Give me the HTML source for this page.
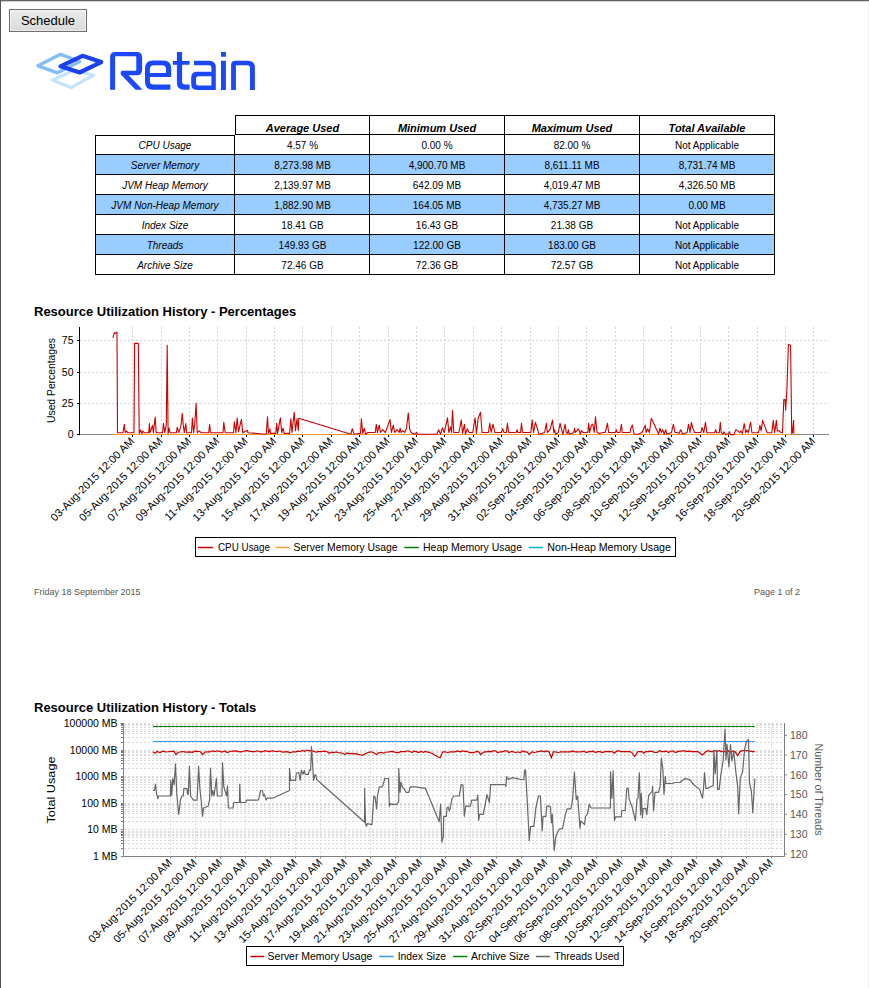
<!DOCTYPE html><html><head><meta charset="utf-8"><style>html,body{margin:0;padding:0;background:#fff;width:869px;height:988px;overflow:hidden;font-family:"Liberation Sans", sans-serif}svg{position:absolute;left:0;top:0}text{font-family:"Liberation Sans", sans-serif}</style></head><body>
<svg width="869" height="988" viewBox="0 0 869 988">
<rect x="0" y="0" width="869" height="1" fill="#636363"/><rect x="0" y="1" width="869" height="1" fill="#d0d0d0"/><rect x="0" y="0" width="1" height="988" fill="#555555"/><rect x="868" y="2" width="1" height="986" fill="#eeeeee"/>
<defs><linearGradient id="bg" x1="0" y1="0" x2="0" y2="1"><stop offset="0" stop-color="#ececec"/><stop offset="1" stop-color="#d9d9d9"/></linearGradient></defs>
<rect x="9.5" y="9.5" width="77" height="22" fill="url(#bg)" stroke="#707070" stroke-width="1"/>
<rect x="10.5" y="10.5" width="75" height="20" fill="none" stroke="#f4f4f4" stroke-opacity="0.7" stroke-width="1"/>
<text x="48" y="24.7" font-size="13" text-anchor="middle" fill="#000">Schedule</text>
<g fill="none" stroke-linejoin="round">
<path d="M52.5,80.2 L73.3,70.5 L93.6,75 L71.4,87.6 Z" stroke="#c5e3fb" stroke-width="3.3"/>
<path d="M37.9,65.8 L60.6,54.3 L79.7,61.5 L57.6,72.8 Z" stroke="#84bef6" stroke-width="3.4"/>
<path d="M60.5,66.3 L82.5,55.8 L101.2,62.1 L79.7,72.5 Z" stroke="#1b40f1" stroke-width="4.2"/>
</g>
<g fill="#1c48fc" fill-rule="evenodd">
<path d="M110.1,89.7 V57.2 Q110.1,51.9 115.4,51.9 H136.8 Q142.1,51.9 142.1,57.2 V69.9 Q142.1,75.2 136.8,75.2 H128.6 L142.6,89.7 H135.6 L121.5,75.2 Q119.5,73 121.8,70.8 H135.3 Q136.3,70.8 136.3,69.8 V57.3 Q136.3,56.3 135.3,56.3 H115.1 V89.7 Z"/>
<path d="M153,60.6 H163.2 Q171.2,60.6 171.2,68.6 V77 H149.9 V81 Q149.9,84.5 153.4,84.5 H170.4 V89.7 H153 Q145,89.7 145,81.7 V68.6 Q145,60.6 153,60.6 Z M154,65.2 H162 Q166,65.2 166,69.2 V73 H149.9 V69.2 Q149.9,65.2 154,65.2 Z"/>
<path d="M176.9,52 H182.1 V60.9 H189.6 V64.7 H182.1 V81.5 Q182.1,84.5 185.1,84.5 H189.6 V89.7 H183.9 Q176.9,89.7 176.9,82.7 V64.7 H172.9 V60.9 H176.9 Z"/>
<path d="M194,60.7 H209 Q215.8,60.7 215.8,67.5 V89.9 H197 Q191.2,89.9 191.2,84 V77.6 Q191.2,71.8 197,71.8 H211.4 V67.5 Q211.4,65.3 209.2,65.3 H194 Z M198.5,76.2 H211.4 V85.5 H198.5 Q196,85.5 196,83 V78.7 Q196,76.2 198.5,76.2 Z"/>
<path d="M221,60.7 H225.9 V89.9 H221 Z M221,52 H225.9 V56.7 H221 Z"/>
<path d="M231.1,89.9 V65 Q231.1,60.7 235.4,60.7 H248 Q254.9,60.7 254.9,67.6 V89.9 H250 V68 Q250,65.3 247.3,65.3 H235.9 V89.9 Z"/>
</g>
<rect x="95" y="154" width="679" height="20" fill="#99ccff"/>
<rect x="95" y="194" width="679" height="20" fill="#99ccff"/>
<rect x="95" y="234" width="679" height="20" fill="#99ccff"/>
<path d="M235,115.5 H774.5 M235.5,115 V134.5 M234.5,135 V274.5 M369.5,115 V274.5 M504.5,115 V274.5 M639.5,115 V274.5 M774.5,115 V274.5 M95.5,135 V274.5 M95,135.5 H235 M235,134.5 H774.5 M95,154.5 H774.5 M95,174.5 H774.5 M95,194.5 H774.5 M95,214.5 H774.5 M95,234.5 H774.5 M95,254.5 H774.5 M95,274.5 H774.5" stroke="#000" stroke-width="1" fill="none"/>
<text x="302.5" y="131.5" font-size="11" font-weight="bold" font-style="italic" text-anchor="middle">Average Used</text>
<text x="437.0" y="131.5" font-size="11" font-weight="bold" font-style="italic" text-anchor="middle">Minimum Used</text>
<text x="572.0" y="131.5" font-size="11" font-weight="bold" font-style="italic" text-anchor="middle">Maximum Used</text>
<text x="707.0" y="131.5" font-size="11" font-weight="bold" font-style="italic" text-anchor="middle">Total Available</text>
<text x="165.0" y="148.6" font-size="10" font-style="italic" text-anchor="middle">CPU Usage</text>
<text x="302.5" y="148.6" font-size="10" text-anchor="middle">4.57 %</text>
<text x="437.0" y="148.6" font-size="10" text-anchor="middle">0.00 %</text>
<text x="572.0" y="148.6" font-size="10" text-anchor="middle">82.00 %</text>
<text x="707.0" y="148.6" font-size="10" text-anchor="middle">Not Applicable</text>
<text x="165.0" y="168.6" font-size="10" font-style="italic" text-anchor="middle">Server Memory</text>
<text x="302.5" y="168.6" font-size="10" text-anchor="middle">8,273.98 MB</text>
<text x="437.0" y="168.6" font-size="10" text-anchor="middle">4,900.70 MB</text>
<text x="572.0" y="168.6" font-size="10" text-anchor="middle">8,611.11 MB</text>
<text x="707.0" y="168.6" font-size="10" text-anchor="middle">8,731.74 MB</text>
<text x="165.0" y="188.6" font-size="10" font-style="italic" text-anchor="middle">JVM Heap Memory</text>
<text x="302.5" y="188.6" font-size="10" text-anchor="middle">2,139.97 MB</text>
<text x="437.0" y="188.6" font-size="10" text-anchor="middle">642.09 MB</text>
<text x="572.0" y="188.6" font-size="10" text-anchor="middle">4,019.47 MB</text>
<text x="707.0" y="188.6" font-size="10" text-anchor="middle">4,326.50 MB</text>
<text x="165.0" y="208.6" font-size="10" font-style="italic" text-anchor="middle">JVM Non-Heap Memory</text>
<text x="302.5" y="208.6" font-size="10" text-anchor="middle">1,882.90 MB</text>
<text x="437.0" y="208.6" font-size="10" text-anchor="middle">164.05 MB</text>
<text x="572.0" y="208.6" font-size="10" text-anchor="middle">4,735.27 MB</text>
<text x="707.0" y="208.6" font-size="10" text-anchor="middle">0.00 MB</text>
<text x="165.0" y="228.6" font-size="10" font-style="italic" text-anchor="middle">Index Size</text>
<text x="302.5" y="228.6" font-size="10" text-anchor="middle">18.41 GB</text>
<text x="437.0" y="228.6" font-size="10" text-anchor="middle">16.43 GB</text>
<text x="572.0" y="228.6" font-size="10" text-anchor="middle">21.38 GB</text>
<text x="707.0" y="228.6" font-size="10" text-anchor="middle">Not Applicable</text>
<text x="165.0" y="248.6" font-size="10" font-style="italic" text-anchor="middle">Threads</text>
<text x="302.5" y="248.6" font-size="10" text-anchor="middle">149.93 GB</text>
<text x="437.0" y="248.6" font-size="10" text-anchor="middle">122.00 GB</text>
<text x="572.0" y="248.6" font-size="10" text-anchor="middle">183.00 GB</text>
<text x="707.0" y="248.6" font-size="10" text-anchor="middle">Not Applicable</text>
<text x="165.0" y="268.6" font-size="10" font-style="italic" text-anchor="middle">Archive Size</text>
<text x="302.5" y="268.6" font-size="10" text-anchor="middle">72.46 GB</text>
<text x="437.0" y="268.6" font-size="10" text-anchor="middle">72.36 GB</text>
<text x="572.0" y="268.6" font-size="10" text-anchor="middle">72.57 GB</text>
<text x="707.0" y="268.6" font-size="10" text-anchor="middle">Not Applicable</text>
<text x="34" y="315.5" font-size="13" font-weight="bold" fill="#000">Resource Utilization History - Percentages</text>
<path d="M132.5,327 V434 M161.5,327 V434 M189.5,327 V434 M217.5,327 V434 M246.5,327 V434 M274.5,327 V434 M302.5,327 V434 M331.5,327 V434 M359.5,327 V434 M388.5,327 V434 M416.5,327 V434 M444.5,327 V434 M473.5,327 V434 M501.5,327 V434 M530.5,327 V434 M558.5,327 V434 M586.5,327 V434 M615.5,327 V434 M643.5,327 V434 M671.5,327 V434 M700.5,327 V434 M728.5,327 V434 M757.5,327 V434 M785.5,327 V434 M813.5,327 V434 M80,403.5 H828.8 M80,372.5 H828.8 M80,340.5 H828.8" stroke="#d4d4d4" stroke-width="1" stroke-dasharray="2,2" fill="none"/>
<path d="M79.5,327 V434.5 M77,434.5 H828.8" stroke="#000" stroke-width="1" fill="none"/>
<path d="M77,434.5 H79.5 M77,403.5 H79.5 M77,372.5 H79.5 M77,340.5 H79.5 M132.5,434.5 V437 M161.5,434.5 V437 M189.5,434.5 V437 M217.5,434.5 V437 M246.5,434.5 V437 M274.5,434.5 V437 M302.5,434.5 V437 M331.5,434.5 V437 M359.5,434.5 V437 M388.5,434.5 V437 M416.5,434.5 V437 M444.5,434.5 V437 M473.5,434.5 V437 M501.5,434.5 V437 M530.5,434.5 V437 M558.5,434.5 V437 M586.5,434.5 V437 M615.5,434.5 V437 M643.5,434.5 V437 M671.5,434.5 V437 M700.5,434.5 V437 M728.5,434.5 V437 M757.5,434.5 V437 M785.5,434.5 V437 M813.5,434.5 V437" stroke="#000" stroke-width="1" fill="none"/>
<path d="M80,434.5 H828.8" stroke="#888" stroke-width="1" fill="none"/>
<text x="73.5" y="438.3" font-size="10.5" text-anchor="end">0</text>
<text x="73.5" y="407.3" font-size="10.5" text-anchor="end">25</text>
<text x="73.5" y="376.3" font-size="10.5" text-anchor="end">50</text>
<text x="73.5" y="344.3" font-size="10.5" text-anchor="end">75</text>
<text transform="translate(54.5,380.5) rotate(-90)" font-size="10.5" text-anchor="middle" textLength="85" lengthAdjust="spacingAndGlyphs">Used Percentages</text>
<path d="M113,434.5 H794" stroke="#ff9933" stroke-width="1.1" fill="none"/>
<polyline points="112.9,337.9 114.4,332.7 115.2,333.5 116.2,332.4 117.0,332.4 117.5,432.7 123.0,432.7 124.3,424.4 125.2,432.7 126.7,430.9 127.6,432.7 134.0,432.7 134.6,343.4 138.3,343.4 139.2,433.7 140.5,430.0 142.0,433.7 142.7,431.0 144.2,432.7 148.8,432.7 149.4,423.5 150.1,432.7 152.5,425.4 153.4,432.7 155.2,417.0 156.2,432.7 162.6,432.7 163.5,423.5 164.8,432.7 166.3,424.4 167.2,345.3 168.1,433.7 169.1,428.1 170.0,432.7 176.4,432.7 177.3,427.2 178.8,432.7 181.0,425.4 182.3,413.4 183.2,424.4 184.3,432.7 185.8,423.5 186.6,432.7 191.5,432.7 192.4,418.0 193.6,432.7 194.7,424.4 196.1,403.3 197.2,432.7 199.4,430.9 200.9,432.7 208.7,432.7 209.6,424.4 210.5,432.7 223.0,432.7 223.8,422.2 225.2,432.7 233.5,432.7 234.4,421.7 235.9,432.7 237.2,418.0 238.5,431.8 241.4,419.3 242.7,432.7 247.3,430.3 248.2,432.7 266.2,434.3 267.5,416.8 268.4,433.4 269.9,428.8 270.6,433.4 275.8,433.4 276.7,423.3 277.6,433.4 279.5,422.4 280.4,417.8 281.7,432.5 283.1,428.2 284.1,433.4 289.6,433.4 290.9,418.7 292.0,432.5 294.2,412.2 295.5,430.6 297.0,418.7 298.3,430.6 298.8,418.3 350.9,434.3 352.2,428.8 354.1,434.3 360.5,433.4 361.4,418.7 362.7,433.4 364.2,428.2 365.6,434.3 367.9,432.5 375.2,432.5 376.3,424.2 377.4,432.5 379.3,425.1 380.4,432.5 382.6,429.7 385.4,432.5 390.0,419.6 391.4,432.5 393.3,425.1 394.6,432.5 397.3,429.7 399.2,432.5 400.1,428.2 401.0,432.5 402.9,430.6 404.7,432.5 406.5,428.2 408.3,413.1 409.6,428.8 411.0,432.5 414.7,434.3 416.6,432.5 417.5,434.3 436.8,434.3 438.7,429.7 440.5,434.3 442.4,427.9 444.2,432.5 445.1,428.8 447.5,417.8 448.8,432.5 450.6,427.0 451.6,432.5 452.5,410.4 453.8,432.5 458.9,432.5 461.3,420.1 462.6,433.4 464.5,424.2 465.4,434.3 467.2,428.8 469.1,432.5 472.7,432.5 475.1,417.8 476.4,433.4 478.3,417.8 480.5,412.2 482.0,432.5 488.4,432.5 489.7,423.3 491.2,432.5 493.0,424.2 494.8,432.5 501.3,432.5 502.6,428.8 504.1,432.5 506.4,432.5 507.4,423.3 508.7,432.5 516.0,432.5 516.9,429.7 517.9,432.5 520.6,432.5 521.5,423.3 522.5,432.5 530.8,432.5 532.2,420.1 533.5,432.5 535.4,422.4 537.2,427.9 539.0,434.3 544.6,432.5 546.4,423.3 547.3,432.5 550.1,429.7 552.5,420.1 553.8,432.5 554.6,429.7 555.5,434.3 558.3,432.5 560.1,423.3 561.4,428.8 562.9,434.3 565.1,424.2 566.2,432.5 567.5,433.4 568.4,429.7 569.3,434.3 573.9,432.5 574.5,428.2 575.4,432.5 577.6,429.7 578.5,428.8 580.4,434.3 581.3,430.6 583.1,432.5 587.8,432.5 588.7,423.3 589.6,432.5 591.4,425.1 592.7,424.2 594.2,432.5 595.5,416.8 597.0,432.5 599.7,433.4 602.5,432.5 605.2,432.5 607.5,423.3 608.6,432.5 615.4,432.5 616.3,429.7 617.2,432.5 620.0,432.5 621.5,424.2 622.2,432.5 630.1,432.5 631.0,427.9 632.3,425.1 633.2,429.7 634.3,434.3 638.4,434.3 642.1,432.5 645.2,425.1 646.1,432.5 647.6,428.8 649.4,432.5 651.3,418.3 658.7,434.3 659.9,428.2 661.4,432.5 662.7,429.7 664.2,434.3 665.6,429.7 666.9,434.3 671.5,432.5 673.4,424.2 674.9,432.5 677.1,432.5 678.9,433.4 680.8,429.7 682.6,434.3 687.2,432.5 688.5,424.2 690.0,432.5 691.4,422.4 692.7,427.9 694.6,432.5 701.0,432.5 701.9,427.5 703.8,432.5 705.5,422.2 706.8,432.7 714.7,432.7 715.7,429.6 716.6,432.7 719.3,432.7 720.3,422.2 721.2,432.7 723.0,433.7 723.9,431.8 725.8,434.6 728.5,433.7 729.5,431.8 730.4,434.6 734.1,434.6 735.9,429.6 737.8,430.9 739.6,432.7 740.9,430.9 742.4,433.7 744.2,423.5 745.7,432.7 747.0,429.9 748.3,432.7 750.6,422.2 751.9,432.7 758.6,432.7 759.9,425.4 761.1,430.9 762.6,420.4 764.5,425.4 767.2,432.7 771.8,432.7 773.3,420.4 774.6,432.7 776.4,420.4 777.3,430.9 779.2,430.9 781.0,432.7 782.5,432.7 783.8,399.6 785.1,399.6 785.6,410.1 786.9,389.5 788.4,344.3 790.2,345.3 790.6,345.3 791.7,433.7 792.4,432.7 793.6,420.4 793.9,433.7" stroke="#cc0000" stroke-width="1.1" fill="none" stroke-linejoin="round"/>
<text transform="translate(135.0,441.9) rotate(-45)" font-size="11" text-anchor="end">03-Aug-2015 12:00 AM</text>
<text transform="translate(163.4,441.9) rotate(-45)" font-size="11" text-anchor="end">05-Aug-2015 12:00 AM</text>
<text transform="translate(191.8,441.9) rotate(-45)" font-size="11" text-anchor="end">07-Aug-2015 12:00 AM</text>
<text transform="translate(220.1,441.9) rotate(-45)" font-size="11" text-anchor="end">09-Aug-2015 12:00 AM</text>
<text transform="translate(248.5,441.9) rotate(-45)" font-size="11" text-anchor="end">11-Aug-2015 12:00 AM</text>
<text transform="translate(276.9,441.9) rotate(-45)" font-size="11" text-anchor="end">13-Aug-2015 12:00 AM</text>
<text transform="translate(305.3,441.9) rotate(-45)" font-size="11" text-anchor="end">15-Aug-2015 12:00 AM</text>
<text transform="translate(333.7,441.9) rotate(-45)" font-size="11" text-anchor="end">17-Aug-2015 12:00 AM</text>
<text transform="translate(362.0,441.9) rotate(-45)" font-size="11" text-anchor="end">19-Aug-2015 12:00 AM</text>
<text transform="translate(390.4,441.9) rotate(-45)" font-size="11" text-anchor="end">21-Aug-2015 12:00 AM</text>
<text transform="translate(418.8,441.9) rotate(-45)" font-size="11" text-anchor="end">23-Aug-2015 12:00 AM</text>
<text transform="translate(447.2,441.9) rotate(-45)" font-size="11" text-anchor="end">25-Aug-2015 12:00 AM</text>
<text transform="translate(475.6,441.9) rotate(-45)" font-size="11" text-anchor="end">27-Aug-2015 12:00 AM</text>
<text transform="translate(503.9,441.9) rotate(-45)" font-size="11" text-anchor="end">29-Aug-2015 12:00 AM</text>
<text transform="translate(532.3,441.9) rotate(-45)" font-size="11" text-anchor="end">31-Aug-2015 12:00 AM</text>
<text transform="translate(560.7,441.9) rotate(-45)" font-size="11" text-anchor="end">02-Sep-2015 12:00 AM</text>
<text transform="translate(589.1,441.9) rotate(-45)" font-size="11" text-anchor="end">04-Sep-2015 12:00 AM</text>
<text transform="translate(617.5,441.9) rotate(-45)" font-size="11" text-anchor="end">06-Sep-2015 12:00 AM</text>
<text transform="translate(645.8,441.9) rotate(-45)" font-size="11" text-anchor="end">08-Sep-2015 12:00 AM</text>
<text transform="translate(674.2,441.9) rotate(-45)" font-size="11" text-anchor="end">10-Sep-2015 12:00 AM</text>
<text transform="translate(702.6,441.9) rotate(-45)" font-size="11" text-anchor="end">12-Sep-2015 12:00 AM</text>
<text transform="translate(731.0,441.9) rotate(-45)" font-size="11" text-anchor="end">14-Sep-2015 12:00 AM</text>
<text transform="translate(759.4,441.9) rotate(-45)" font-size="11" text-anchor="end">16-Sep-2015 12:00 AM</text>
<text transform="translate(787.7,441.9) rotate(-45)" font-size="11" text-anchor="end">18-Sep-2015 12:00 AM</text>
<text transform="translate(816.1,441.9) rotate(-45)" font-size="11" text-anchor="end">20-Sep-2015 12:00 AM</text>
<rect x="195.5" y="537.5" width="480" height="19" fill="#fff" stroke="#000" stroke-width="1"/>
<path d="M198.0,547.5 H213.0" stroke="#cc0000" stroke-width="1.5"/>
<text x="218.0" y="551" font-size="10.5" textLength="52.0" lengthAdjust="spacingAndGlyphs">CPU Usage</text>
<path d="M275.4,547.5 H289.3" stroke="#ff9933" stroke-width="1.5"/>
<text x="293.6" y="551" font-size="10.5" textLength="104.0" lengthAdjust="spacingAndGlyphs">Server Memory Usage</text>
<path d="M404.3,547.5 H418.7" stroke="#007700" stroke-width="1.5"/>
<text x="423.0" y="551" font-size="10.5" textLength="99.0" lengthAdjust="spacingAndGlyphs">Heap Memory Usage</text>
<path d="M528.7,547.5 H543.1" stroke="#00bbcc" stroke-width="1.5"/>
<text x="547.3" y="551" font-size="10.5" textLength="123.6" lengthAdjust="spacingAndGlyphs">Non-Heap Memory Usage</text>
<text x="34" y="594.7" font-size="9" fill="#555">Friday 18 September 2015</text>
<text x="800" y="594.7" font-size="9" fill="#555" text-anchor="end">Page 1 of 2</text>
<text x="34" y="712" font-size="13" font-weight="bold" fill="#000">Resource Utilization History - Totals</text>
<path d="M124,856.5 H784 M124,848.5 H784 M124,843.5 H784 M124,840.5 H784 M124,837.5 H784 M124,835.5 H784 M124,834.5 H784 M124,832.5 H784 M124,831.5 H784 M124,829.5 H784 M124,821.5 H784 M124,817.5 H784 M124,813.5 H784 M124,811.5 H784 M124,809.5 H784 M124,807.5 H784 M124,805.5 H784 M124,804.5 H784 M124,803.5 H784 M124,795.5 H784 M124,790.5 H784 M124,787.5 H784 M124,784.5 H784 M124,782.5 H784 M124,780.5 H784 M124,779.5 H784 M124,777.5 H784 M124,776.5 H784 M124,768.5 H784 M124,763.5 H784 M124,760.5 H784 M124,758.5 H784 M124,755.5 H784 M124,754.5 H784 M124,752.5 H784 M124,751.5 H784 M124,750.5 H784 M124,742.5 H784 M124,737.5 H784 M124,733.5 H784 M124,731.5 H784 M124,729.5 H784 M124,727.5 H784 M124,725.5 H784 M124,724.5 H784 M124,723.5 H784 M170.5,723.3 V856 M195.5,723.3 V856 M220.5,723.3 V856 M245.5,723.3 V856 M270.5,723.3 V856 M295.5,723.3 V856 M320.5,723.3 V856 M345.5,723.3 V856 M370.5,723.3 V856 M395.5,723.3 V856 M420.5,723.3 V856 M445.5,723.3 V856 M470.5,723.3 V856 M496.5,723.3 V856 M521.5,723.3 V856 M546.5,723.3 V856 M571.5,723.3 V856 M596.5,723.3 V856 M621.5,723.3 V856 M646.5,723.3 V856 M671.5,723.3 V856 M696.5,723.3 V856 M721.5,723.3 V856 M746.5,723.3 V856 M771.5,723.3 V856" stroke="#dadada" stroke-width="1" stroke-dasharray="2,2" fill="none"/>
<path d="M123.5,723 V856.5 M123.5,856.5 H784.5 M784.5,723 V856.5 M121,856.5 H123.5 M121,848.5 H123.5 M121,843.5 H123.5 M121,840.5 H123.5 M121,837.5 H123.5 M121,835.5 H123.5 M121,834.5 H123.5 M121,832.5 H123.5 M121,831.5 H123.5 M121,829.5 H123.5 M121,821.5 H123.5 M121,817.5 H123.5 M121,813.5 H123.5 M121,811.5 H123.5 M121,809.5 H123.5 M121,807.5 H123.5 M121,805.5 H123.5 M121,804.5 H123.5 M121,803.5 H123.5 M121,795.5 H123.5 M121,790.5 H123.5 M121,787.5 H123.5 M121,784.5 H123.5 M121,782.5 H123.5 M121,780.5 H123.5 M121,779.5 H123.5 M121,777.5 H123.5 M121,776.5 H123.5 M121,768.5 H123.5 M121,763.5 H123.5 M121,760.5 H123.5 M121,758.5 H123.5 M121,755.5 H123.5 M121,754.5 H123.5 M121,752.5 H123.5 M121,751.5 H123.5 M121,750.5 H123.5 M121,742.5 H123.5 M121,737.5 H123.5 M121,733.5 H123.5 M121,731.5 H123.5 M121,729.5 H123.5 M121,727.5 H123.5 M121,725.5 H123.5 M121,724.5 H123.5 M120.5,723.5 H123.5 M170.5,856.3 V858.5 M195.5,856.3 V858.5 M220.5,856.3 V858.5 M245.5,856.3 V858.5 M270.5,856.3 V858.5 M295.5,856.3 V858.5 M320.5,856.3 V858.5 M345.5,856.3 V858.5 M370.5,856.3 V858.5 M395.5,856.3 V858.5 M420.5,856.3 V858.5 M445.5,856.3 V858.5 M470.5,856.3 V858.5 M496.5,856.3 V858.5 M521.5,856.3 V858.5 M546.5,856.3 V858.5 M571.5,856.3 V858.5 M596.5,856.3 V858.5 M621.5,856.3 V858.5 M646.5,856.3 V858.5 M671.5,856.3 V858.5 M696.5,856.3 V858.5 M721.5,856.3 V858.5 M746.5,856.3 V858.5 M771.5,856.3 V858.5 M784.3,854.0 H786.8 M784.3,834.2 H786.8 M784.3,814.4 H786.8 M784.3,794.7 H786.8 M784.3,774.9 H786.8 M784.3,755.1 H786.8 M784.3,735.3 H786.8" stroke="#808080" stroke-width="1" fill="none"/>
<text x="117.5" y="860.1" font-size="10.5" text-anchor="end">1 MB</text>
<text x="117.5" y="833.1" font-size="10.5" text-anchor="end">10 MB</text>
<text x="117.5" y="807.1" font-size="10.5" text-anchor="end">100 MB</text>
<text x="117.5" y="780.1" font-size="10.5" text-anchor="end">1000 MB</text>
<text x="117.5" y="754.1" font-size="10.5" text-anchor="end">10000 MB</text>
<text x="117.5" y="727.1" font-size="10.5" text-anchor="end">100000 MB</text>
<text x="790" y="857.6" font-size="10.5" fill="#555">120</text>
<text x="790" y="837.8" font-size="10.5" fill="#555">130</text>
<text x="790" y="818.0" font-size="10.5" fill="#555">140</text>
<text x="790" y="798.3" font-size="10.5" fill="#555">150</text>
<text x="790" y="778.5" font-size="10.5" fill="#555">160</text>
<text x="790" y="758.7" font-size="10.5" fill="#555">170</text>
<text x="790" y="738.9" font-size="10.5" fill="#555">180</text>
<text transform="translate(54.5,790) rotate(-90)" font-size="10.5" text-anchor="middle" textLength="67" lengthAdjust="spacingAndGlyphs">Total Usage</text>
<text transform="translate(814.5,789.5) rotate(90)" font-size="10.5" text-anchor="middle" fill="#555" textLength="92" lengthAdjust="spacingAndGlyphs">Number of Threads</text>
<path d="M152.9,726.5 H754.8" stroke="#007f00" stroke-width="1.2"/>
<path d="M152.9,741.5 H754.8" stroke="#3399ff" stroke-width="1.2"/>
<polyline points="152.9,751.8 155.0,753.2 157.0,751.5 160.0,752.5 163.0,751.2 166.0,752.0 170.0,751.5 174.0,751.2 175.9,754.6 178.0,752.5 182.0,751.5 186.0,752.2 190.0,751.8 192.5,752.4 195.0,751.2 197.5,751.4 200.0,751.5 202.6,754.6 205.0,752.0 207.5,751.9 210.0,751.8 212.5,750.8 215.0,751.5 217.3,750.8 219.7,751.4 222.0,752.0 224.7,750.9 227.3,752.6 230.0,751.5 232.5,751.1 235.0,750.8 237.5,751.3 240.0,751.8 242.5,751.7 245.0,750.8 247.5,750.7 250.0,751.5 252.4,751.6 254.8,751.6 257.2,750.8 259.6,751.7 262.0,751.8 264.6,750.8 267.2,751.2 269.8,751.6 272.4,750.7 275.0,751.5 277.5,751.3 280.0,751.0 282.5,752.1 285.0,751.9 287.5,751.7 290.0,752.8 292.8,751.8 295.5,751.8 297.8,751.2 300.1,751.5 302.4,750.5 304.6,751.3 306.9,750.3 309.2,750.6 311.5,750.9 313.7,751.1 316.0,752.2 318.2,751.4 320.4,751.6 322.6,751.4 324.9,751.1 327.1,751.7 329.3,753.3 331.5,752.1 333.8,752.7 336.0,752.0 338.2,752.6 340.4,752.8 342.7,753.5 344.9,754.5 347.1,752.9 349.3,753.6 351.6,753.3 353.8,753.9 356.0,753.7 358.2,754.3 360.5,754.9 362.7,755.1 365.4,753.8 368.0,752.5 371.0,751.8 373.8,752.8 376.6,754.6 378.5,752.8 381.2,752.5 383.9,753.2 386.7,752.0 389.4,751.8 391.6,751.3 393.9,751.8 396.1,752.6 398.4,752.6 400.6,751.7 402.9,751.7 405.1,751.7 407.4,750.8 409.6,751.2 411.9,752.5 414.1,751.1 416.4,751.6 418.6,752.5 420.9,751.5 423.1,752.4 425.4,751.5 427.8,752.1 430.3,752.7 432.8,753.7 435.2,755.2 437.7,756.7 440.1,757.7 442.8,751.8 445.3,751.8 447.7,752.7 450.2,751.8 452.6,751.8 455.1,751.8 457.5,750.9 460.0,751.8 462.3,750.9 464.7,751.3 467.0,751.3 469.4,752.7 471.7,752.7 474.0,752.7 476.4,751.3 478.7,751.8 480.5,754.6 484.2,751.8 486.5,751.8 488.7,751.3 491.0,751.8 493.2,750.9 495.5,750.9 497.7,752.7 500.0,751.8 502.2,751.8 504.5,750.9 506.8,750.9 509.0,752.7 511.2,751.3 513.5,751.8 515.8,752.7 518.0,751.8 520.2,752.7 522.5,750.9 524.8,751.8 527.0,751.8 529.3,754.6 532.0,751.8 534.4,752.7 536.9,751.8 539.3,751.3 541.7,750.9 544.1,751.8 546.6,750.9 549.0,751.8 551.4,757.7 553.3,751.8 555.7,751.8 558.1,752.7 560.5,751.8 562.9,751.8 565.4,751.8 567.8,751.8 570.2,751.8 572.6,750.9 575.0,751.8 577.3,751.8 579.5,751.8 581.8,751.7 584.1,751.3 586.4,752.6 588.6,751.7 590.9,751.7 593.2,751.2 595.5,752.5 597.7,751.6 600.0,751.6 602.4,752.5 604.8,751.6 607.2,751.6 609.6,751.6 612.0,751.6 614.5,753.2 616.0,751.6 618.3,750.7 620.7,751.6 623.0,751.6 625.3,751.6 627.7,751.6 630.0,751.6 632.3,753.1 634.6,756.5 638.0,751.6 642.0,751.6 643.8,753.2 646.0,751.6 648.3,751.6 650.5,751.1 652.8,751.6 655.0,752.5 657.3,752.5 659.6,750.7 661.8,751.6 664.1,751.6 666.3,751.1 668.6,752.5 670.9,751.1 673.1,751.1 675.4,752.5 677.7,751.6 679.9,751.1 682.2,751.1 684.4,750.7 686.7,751.6 689.0,751.1 691.2,751.6 693.5,751.6 695.7,751.6 698.0,751.6 700.2,753.3 702.5,755.0 706.0,751.6 708.2,750.7 710.5,751.6 712.7,751.6 714.9,750.7 717.2,751.6 719.4,750.7 721.6,751.6 723.8,751.6 726.1,751.6 728.3,750.7 730.5,752.5 732.8,751.1 735.0,751.6 737.7,755.7 740.0,751.6 742.5,750.7 744.9,750.7 747.4,750.7 749.9,751.1 752.3,751.6 754.8,751.6" stroke="#cc0000" stroke-width="1.2" fill="none"/>
<polyline points="152.9,790.5 154.4,790.5 155.5,784.0 156.6,794.2 158.0,798.8 158.4,796.0 170.4,796.0 170.8,780.4 171.7,795.1 172.8,778.5 174.1,785.0 175.5,763.8 176.8,794.2 178.7,814.4 180.5,799.7 182.0,796.0 183.3,796.0 183.8,788.7 187.0,788.7 187.5,794.2 188.3,794.2 189.4,766.2 190.6,796.0 193.4,800.1 197.1,800.1 198.6,766.2 199.9,788.7 201.1,799.7 202.6,816.3 203.5,808.0 208.1,806.2 209.6,799.7 210.5,768.0 211.8,796.0 212.7,790.5 214.0,796.0 216.4,778.5 217.3,796.0 222.0,796.0 222.5,762.5 223.8,786.8 226.6,795.7 227.5,785.9 228.4,808.0 233.0,808.0 233.9,802.5 239.4,802.5 239.8,784.0 240.4,802.5 245.9,802.5 246.4,800.1 257.9,800.1 258.8,798.8 260.6,790.5 262.5,790.5 263.4,796.0 264.3,794.2 266.2,800.1 267.1,798.2 272.6,798.2 289.5,790.5 289.5,768.4 290.6,780.4 295.5,780.4 296.4,773.0 298.8,772.5 300.1,780.4 301.4,770.2 302.9,774.3 304.4,770.6 305.1,774.3 308.4,774.3 309.3,770.2 310.6,770.2 311.5,746.7 313.0,770.2 313.6,780.4 314.9,774.9 315.8,774.9 316.7,779.5 364.6,822.2 364.6,788.3 365.5,823.7 366.4,826.4 367.3,823.7 372.0,824.6 373.8,796.0 375.1,797.0 376.6,808.9 377.5,796.0 379.3,786.8 382.1,786.8 383.0,785.0 384.8,778.5 388.5,778.5 389.4,806.2 390.4,803.4 391.3,804.3 396.8,804.3 398.7,801.6 398.7,768.4 400.1,792.3 400.9,782.2 402.7,787.7 404.2,788.7 406.0,792.3 408.8,792.3 410.1,786.8 415.2,786.8 425.4,788.3 439.2,821.8 440.6,804.3 441.9,842.1 443.3,836.5 443.7,816.3 446.4,816.3 447.0,808.0 448.3,807.1 449.2,810.8 450.1,808.9 452.0,798.8 453.8,796.0 459.3,796.0 461.2,784.6 463.0,785.0 464.3,816.3 465.8,806.2 470.4,806.2 471.7,800.1 476.8,800.1 477.8,795.1 478.7,820.3 479.6,814.4 483.3,814.4 487.0,794.6 489.4,802.5 490.6,784.6 505.4,784.6 505.9,786.5 506.7,776.7 508.5,779.5 512.7,777.6 521.0,779.5 523.8,779.5 524.7,770.2 525.6,770.2 529.3,840.6 530.6,826.4 533.9,826.4 535.8,808.0 538.5,796.0 540.4,796.0 542.2,831.0 543.1,816.3 545.9,816.3 546.8,806.2 549.6,806.2 550.5,807.1 551.4,822.7 552.3,814.4 554.2,850.4 556.0,835.6 559.3,829.2 562.5,828.3 565.2,815.4 567.1,808.9 570.8,808.9 572.6,800.1 574.4,772.1 576.3,799.7 577.7,796.0 580.0,828.3 580.9,820.9 584.6,824.6 585.5,816.3 587.3,814.4 589.2,804.3 591.0,808.0 610.5,808.0 610.5,771.8 611.9,798.2 613.1,770.8 614.5,820.7 615.4,816.8 621.3,816.8 621.9,810.5 625.2,810.5 626.8,788.4 628.2,788.4 629.1,799.1 632.1,807.0 635.4,820.7 637.0,799.1 638.0,798.2 639.3,772.7 640.5,814.8 641.3,793.3 642.4,817.7 643.2,808.5 645.8,808.5 646.8,814.4 648.7,795.2 652.2,791.3 652.6,786.4 653.6,810.9 655.0,792.3 658.5,792.3 660.1,786.4 661.4,758.0 662.8,768.8 664.0,794.3 665.3,776.6 665.9,783.5 672.2,783.5 675.1,782.5 680.0,782.5 684.9,778.6 689.8,779.6 691.8,782.5 694.7,785.5 699.6,789.4 702.5,798.2 703.5,788.4 704.5,772.7 705.9,788.4 707.4,788.4 713.3,785.5 713.9,750.2 715.2,773.7 716.8,750.2 717.6,789.4 719.2,789.4 720.7,775.7 723.1,761.0 725.0,729.1 726.0,760.0 727.0,744.0 728.9,766.9 730.5,744.4 731.9,761.0 733.8,751.2 735.8,771.8 737.7,786.4 738.7,813.8 740.3,777.6 742.6,771.8 744.6,749.2 746.2,742.4 748.5,739.5 749.5,782.5 751.4,791.3 752.8,812.8 754.8,778.6" stroke="#666666" stroke-width="1.2" fill="none" stroke-linejoin="round"/>
<text transform="translate(172.7,863.6) rotate(-45)" font-size="11" text-anchor="end">03-Aug-2015 12:00 AM</text>
<text transform="translate(197.7,863.6) rotate(-45)" font-size="11" text-anchor="end">05-Aug-2015 12:00 AM</text>
<text transform="translate(222.8,863.6) rotate(-45)" font-size="11" text-anchor="end">07-Aug-2015 12:00 AM</text>
<text transform="translate(247.8,863.6) rotate(-45)" font-size="11" text-anchor="end">09-Aug-2015 12:00 AM</text>
<text transform="translate(272.9,863.6) rotate(-45)" font-size="11" text-anchor="end">11-Aug-2015 12:00 AM</text>
<text transform="translate(297.9,863.6) rotate(-45)" font-size="11" text-anchor="end">13-Aug-2015 12:00 AM</text>
<text transform="translate(322.9,863.6) rotate(-45)" font-size="11" text-anchor="end">15-Aug-2015 12:00 AM</text>
<text transform="translate(348.0,863.6) rotate(-45)" font-size="11" text-anchor="end">17-Aug-2015 12:00 AM</text>
<text transform="translate(373.0,863.6) rotate(-45)" font-size="11" text-anchor="end">19-Aug-2015 12:00 AM</text>
<text transform="translate(398.1,863.6) rotate(-45)" font-size="11" text-anchor="end">21-Aug-2015 12:00 AM</text>
<text transform="translate(423.1,863.6) rotate(-45)" font-size="11" text-anchor="end">23-Aug-2015 12:00 AM</text>
<text transform="translate(448.1,863.6) rotate(-45)" font-size="11" text-anchor="end">25-Aug-2015 12:00 AM</text>
<text transform="translate(473.2,863.6) rotate(-45)" font-size="11" text-anchor="end">27-Aug-2015 12:00 AM</text>
<text transform="translate(498.2,863.6) rotate(-45)" font-size="11" text-anchor="end">29-Aug-2015 12:00 AM</text>
<text transform="translate(523.3,863.6) rotate(-45)" font-size="11" text-anchor="end">31-Aug-2015 12:00 AM</text>
<text transform="translate(548.3,863.6) rotate(-45)" font-size="11" text-anchor="end">02-Sep-2015 12:00 AM</text>
<text transform="translate(573.3,863.6) rotate(-45)" font-size="11" text-anchor="end">04-Sep-2015 12:00 AM</text>
<text transform="translate(598.4,863.6) rotate(-45)" font-size="11" text-anchor="end">06-Sep-2015 12:00 AM</text>
<text transform="translate(623.4,863.6) rotate(-45)" font-size="11" text-anchor="end">08-Sep-2015 12:00 AM</text>
<text transform="translate(648.5,863.6) rotate(-45)" font-size="11" text-anchor="end">10-Sep-2015 12:00 AM</text>
<text transform="translate(673.5,863.6) rotate(-45)" font-size="11" text-anchor="end">12-Sep-2015 12:00 AM</text>
<text transform="translate(698.5,863.6) rotate(-45)" font-size="11" text-anchor="end">14-Sep-2015 12:00 AM</text>
<text transform="translate(723.6,863.6) rotate(-45)" font-size="11" text-anchor="end">16-Sep-2015 12:00 AM</text>
<text transform="translate(748.6,863.6) rotate(-45)" font-size="11" text-anchor="end">18-Sep-2015 12:00 AM</text>
<text transform="translate(773.7,863.6) rotate(-45)" font-size="11" text-anchor="end">20-Sep-2015 12:00 AM</text>
<rect x="246.5" y="946.5" width="377" height="19" fill="#fff" stroke="#000" stroke-width="1"/>
<path d="M250.4,956.5 H264.2" stroke="#cc0000" stroke-width="1.5"/>
<text x="267.6" y="960" font-size="10.5" textLength="104.7" lengthAdjust="spacingAndGlyphs">Server Memory Usage</text>
<path d="M379.2,956.5 H393.7" stroke="#3399ff" stroke-width="1.5"/>
<text x="397.7" y="960" font-size="10.5" textLength="48.4" lengthAdjust="spacingAndGlyphs">Index Size</text>
<path d="M453.0,956.5 H467.3" stroke="#008800" stroke-width="1.5"/>
<text x="471.0" y="960" font-size="10.5" textLength="58.4" lengthAdjust="spacingAndGlyphs">Archive Size</text>
<path d="M535.9,956.5 H550.1" stroke="#666666" stroke-width="1.5"/>
<text x="554.3" y="960" font-size="10.5" textLength="64.9" lengthAdjust="spacingAndGlyphs">Threads Used</text>
</svg></body></html>
